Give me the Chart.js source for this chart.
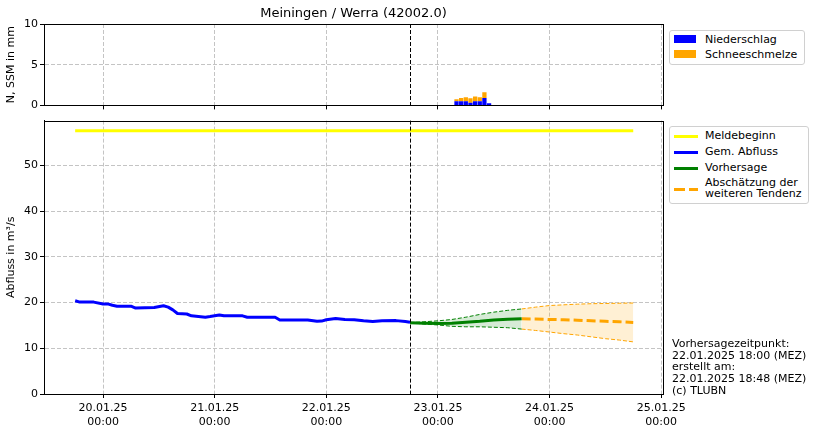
<!DOCTYPE html>
<html>
<head>
<meta charset="utf-8">
<script src="https://cdn.jsdelivr.net/npm/chart.js@4/dist/chart.umd.min.js"></script>
<style>
  body { margin: 0; background: #fff; font-family: "DejaVu Sans", sans-serif; }
  #wrap { position: relative; width: 819px; height: 431px; overflow: hidden; }
  .box { position: absolute; }
  .title { position: absolute; left: 44px; width: 619px; top: 5px; text-align: center; font-size: 13px; color: #000; }
  .legend { position: absolute; background: #fff; border: 1px solid #d0d0d0; border-radius: 3px; font-size: 11px; color: #000; }
  .legend .row { position: absolute; left: 0; white-space: nowrap; }
  .legend .lbl { position: absolute; left: 35px; line-height: 11px; }
  .note { position: absolute; left: 672px; top: 338px; font-size: 11px; line-height: 11.7px; color: #000; white-space: pre; }
</style>
</head>
<body>
<div id="wrap">
  <div class="box" style="left:0;top:4px;width:819px;height:110px"><canvas id="topChart" width="819" height="110"></canvas></div>
  <div class="box" style="left:0;top:112px;width:819px;height:319px"><canvas id="mainChart" width="819" height="319"></canvas></div>
  <div class="title">Meiningen / Werra (42002.0)</div>

  <div class="legend" style="left:669px;top:30px;width:134px;height:33px">
    <div class="row" style="top:4px"><span style="position:absolute;left:4px;top:0;width:22px;height:8px;background:#0000ff"></span><span class="lbl" style="top:-1px">Niederschlag</span></div>
    <div class="row" style="top:19px"><span style="position:absolute;left:4px;top:0;width:22px;height:8px;background:#ffa500"></span><span class="lbl" style="top:-1px">Schneeschmelze</span></div>
  </div>

  <div class="legend" style="left:669px;top:126px;width:138px;height:76px">
    <div class="row" style="top:8px"><span style="position:absolute;left:4px;top:0;width:24px;height:3px;background:#ffff00"></span><span class="lbl" style="top:-5px">Meldebeginn</span></div>
    <div class="row" style="top:24px"><span style="position:absolute;left:4px;top:0;width:24px;height:3px;background:#0000ff"></span><span class="lbl" style="top:-5px">Gem. Abfluss</span></div>
    <div class="row" style="top:40px"><span style="position:absolute;left:4px;top:0;width:24px;height:3px;background:#008000"></span><span class="lbl" style="top:-5px">Vorhersage</span></div>
    <div class="row" style="top:61px"><span style="position:absolute;left:4px;top:0;width:11px;height:3px;background:#ffa500"></span><span style="position:absolute;left:19px;top:0;width:9px;height:3px;background:#ffa500"></span><span class="lbl" style="top:-11px">Abschätzung der<br>weiteren Tendenz</span></div>
  </div>

  <div class="note">Vorhersagezeitpunkt:
22.01.2025 18:00 (MEZ)
erstellt am:
22.01.2025 18:48 (MEZ)
(c) TLUBN</div>
</div>

<script>
// hours since 20.01.25 00:00
const dayNames = ["20.01.25", "21.01.25", "22.01.25", "23.01.25", "24.01.25", "25.01.25"];
const dayTicks = [0, 24, 48, 72, 96, 120];
const xMin = -12.7;
const xMax = 120.4;
const forecastHour = 66;

// precipitation / snow melt (mm per hour)
const precipHours = [76, 77, 78, 79, 80, 81, 82, 83];
const niederschlag = [0.5, 0.5, 0.5, 0.33, 0.5, 0.5, 0.92, 0.25];
const schneeschmelze = [0.25, 0.42, 0.5, 0.55, 0.58, 0.5, 0.71, 0];

// measured discharge
const measHours = [-6, -5, -2, 0, 1, 2, 3, 6, 7, 11, 13, 14, 15, 16, 18, 19, 22, 23, 25, 26, 30, 31, 37, 38, 44, 46, 47, 48, 50, 52, 54, 56, 58, 60, 63, 65, 66];
const gemAbfluss = [20.4, 20.1, 20.1, 19.7, 19.7, 19.4, 19.2, 19.2, 18.8, 18.9, 19.3, 19.0, 18.4, 17.6, 17.5, 17.1, 16.8, 16.95, 17.3, 17.1, 17.1, 16.8, 16.8, 16.2, 16.2, 15.9, 15.95, 16.25, 16.5, 16.3, 16.25, 16.0, 15.85, 16.0, 16.05, 15.85, 15.7];

// forecast
const fcHours = [66, 69, 72, 75, 78, 81, 84, 87, 90];
const vorhersage = [15.6, 15.5, 15.4, 15.5, 15.7, 15.9, 16.2, 16.35, 16.45];
const vorhersageOben = [15.6, 15.8, 16.0, 16.3, 16.8, 17.4, 17.9, 18.3, 18.6];
const vorhersageUnten = [15.6, 15.3, 15.1, 14.8, 14.7, 14.7, 14.6, 14.5, 14.2];

// tendency
const tendHours = [90, 93, 96, 99, 102, 105, 108, 111, 114];
const tendenz = [16.45, 16.4, 16.3, 16.25, 16.15, 16.0, 15.9, 15.8, 15.65];
const tendenzOben = [18.6, 19.0, 19.35, 19.5, 19.65, 19.75, 19.8, 19.85, 19.9];
const tendenzUnten = [14.2, 13.9, 13.55, 13.2, 12.9, 12.5, 12.1, 11.8, 11.4];

const meldeHours = [-6, 114];
const meldebeginn = [57.6, 57.6];

function pts(xs, ys) {
  return xs.map((x, i) => ({ x: x, y: ys[i] }));
}

const FONT = { family: "DejaVu Sans", size: 11 };
Chart.defaults.font.family = "DejaVu Sans";
Chart.defaults.color = "#000";

// frame + forecast time line
const framePlugin = {
  id: "frame",
  afterDatasetsDraw(chart) {
    const { ctx, chartArea: a, scales } = chart;
    ctx.save();
    const fx = Math.round(scales.x.getPixelForValue(forecastHour)) + 0.5;
    ctx.strokeStyle = "#000";
    ctx.lineWidth = 1;
    ctx.setLineDash([4, 2]);
    ctx.beginPath();
    ctx.moveTo(fx, a.top);
    ctx.lineTo(fx, a.bottom);
    ctx.stroke();
    ctx.setLineDash([]);
    ctx.strokeRect(Math.round(a.left) + 0.5, Math.round(a.top) + 0.5, Math.round(a.right - a.left), Math.round(a.bottom - a.top));
    ctx.restore();
  }
};

function xScale(showLabels, height) {
  return {
    type: "linear",
    min: xMin,
    max: xMax,
    offset: false,
    stacked: true,
    afterBuildTicks: s => { s.ticks = dayTicks.map(v => ({ value: v })); },
    afterFit: s => { s.height = height; },
    grid: { color: "#c4c4c4", lineWidth: 1, offset: false, tickColor: "#000", tickLength: 4, tickWidth: 1 },
    border: { display: true, color: "#000", dash: [4, 2] },
    ticks: {
      display: showLabels,
      maxRotation: 0,
      autoSkip: false,
      padding: 4,
      font: FONT,
      color: "#000",
      callback: v => {
        const i = dayTicks.indexOf(v);
        return i >= 0 ? [dayNames[i], "00:00"] : "";
      }
    }
  };
}

function yScale(min, max, ticks, title) {
  return {
    type: "linear",
    min: min,
    max: max,
    afterBuildTicks: s => { s.ticks = ticks.map(v => ({ value: v })); },
    afterFit: s => { s.width = 44; },
    grid: { color: "#c4c4c4", lineWidth: 1, tickColor: "#000", tickLength: 4, tickWidth: 1 },
    border: { display: true, color: "#000", dash: [4, 2] },
    title: { display: true, text: title, font: FONT, color: "#000", padding: { top: 5, bottom: 0 } },
    ticks: { font: FONT, color: "#000", padding: 2 }
  };
}

new Chart(document.getElementById("topChart"), {
  type: "bar",
  data: {
    datasets: [
      { label: "Niederschlag", data: pts(precipHours, niederschlag), backgroundColor: "#0000ff", barPercentage: 0.92, categoryPercentage: 1 },
      { label: "Schneeschmelze", data: pts(precipHours, schneeschmelze), backgroundColor: "#ffa500", barPercentage: 0.92, categoryPercentage: 1 }
    ]
  },
  options: {
    responsive: false,
    animation: false,
    devicePixelRatio: 1,
    layout: { padding: { top: 20, right: 156, left: 0, bottom: 0 } },
    plugins: { legend: { display: false }, tooltip: { enabled: false } },
    scales: {
      x: xScale(false, 8),
      y: Object.assign(yScale(0, 10, [0, 5, 10], "N, SSM in mm"), { stacked: true })
    }
  },
  plugins: [framePlugin]
});

const thin = { pointRadius: 0, borderWidth: 1, tension: 0 };

new Chart(document.getElementById("mainChart"), {
  type: "line",
  data: {
    datasets: [
      Object.assign({ label: "Vorhersage oben", data: pts(fcHours, vorhersageOben), borderColor: "#008000", borderDash: [4, 2], fill: "+1", backgroundColor: "rgba(0,128,0,0.16)" }, thin),
      Object.assign({ label: "Vorhersage unten", data: pts(fcHours, vorhersageUnten), borderColor: "#008000", borderDash: [4, 2], fill: false }, thin),
      Object.assign({ label: "Tendenz oben", data: pts(tendHours, tendenzOben), borderColor: "#ffa500", borderDash: [4, 2], fill: "+1", backgroundColor: "rgba(255,165,0,0.17)" }, thin),
      Object.assign({ label: "Tendenz unten", data: pts(tendHours, tendenzUnten), borderColor: "#ffa500", borderDash: [4, 2], fill: false }, thin),
      { label: "Meldebeginn", data: pts(meldeHours, meldebeginn), borderColor: "#ffff00", borderWidth: 3, pointRadius: 0, fill: false },
      { label: "Gem. Abfluss", data: pts(measHours, gemAbfluss), borderColor: "#0000ff", borderWidth: 3, pointRadius: 0, fill: false, borderJoinStyle: "round" },
      { label: "Vorhersage", data: pts(fcHours, vorhersage), borderColor: "#008000", borderWidth: 3, pointRadius: 0, fill: false },
      { label: "Abschätzung der weiteren Tendenz", data: pts(tendHours, tendenz), borderColor: "#ffa500", borderWidth: 3, borderDash: [9, 4], pointRadius: 0, fill: false }
    ]
  },
  options: {
    responsive: false,
    animation: false,
    devicePixelRatio: 1,
    layout: { padding: { top: 8, right: 156, left: 0, bottom: 0 } },
    plugins: { legend: { display: false }, tooltip: { enabled: false } },
    scales: {
      x: xScale(true, 37),
      y: yScale(0, 59.8, [0, 10, 20, 30, 40, 50], "Abfluss in m³/s")
    }
  },
  plugins: [framePlugin]
});
</script>
</body>
</html>
